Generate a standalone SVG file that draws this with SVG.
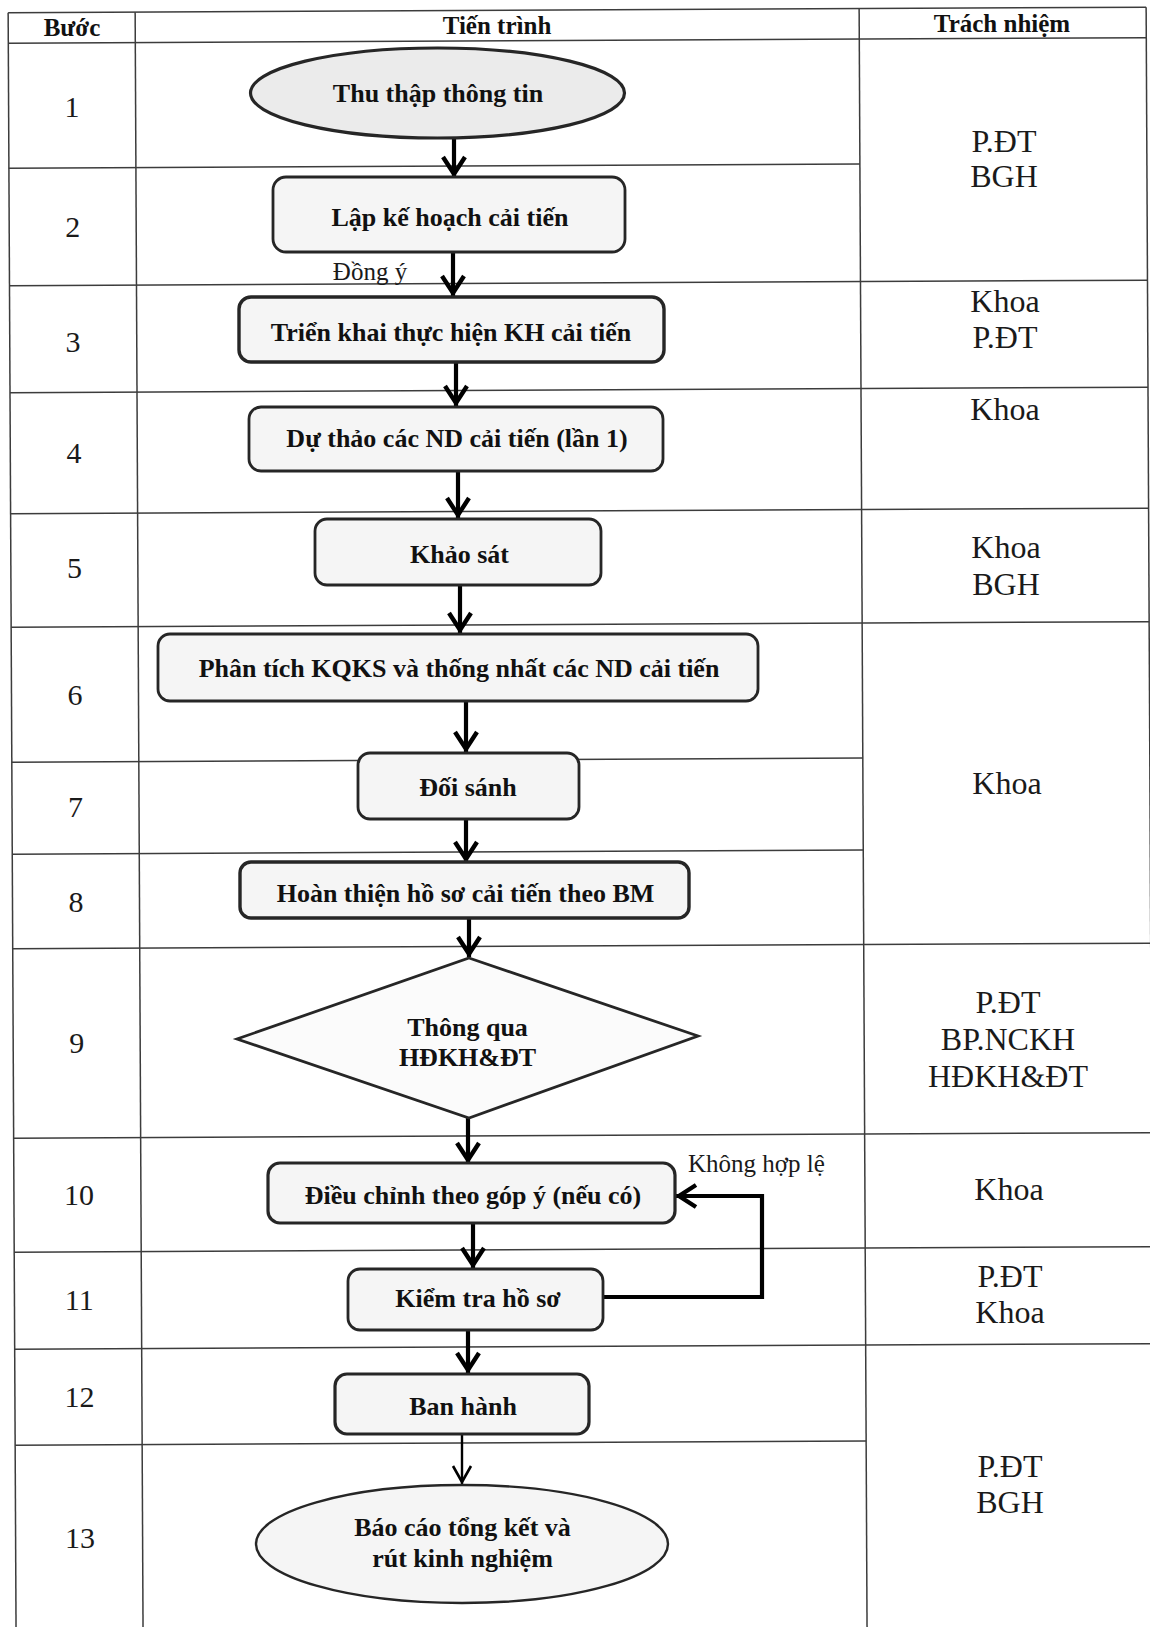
<svg xmlns="http://www.w3.org/2000/svg" width="1150" height="1627" viewBox="0 0 1150 1627">
<style>
.grid line{stroke:#3c3c3c;stroke-width:1.5;fill:none}
.node{fill:#f5f5f5;stroke:#262626;stroke-width:2.8}
.lbl{font-family:"Liberation Serif","Times New Roman",serif;font-weight:bold;font-size:26px;text-anchor:middle;fill:#111}
.hdr{font-family:"Liberation Serif","Times New Roman",serif;font-weight:bold;font-size:25px;text-anchor:middle;fill:#111}
.num{font-family:"Liberation Serif","Times New Roman",serif;font-size:30px;text-anchor:middle;fill:#1a1a1a}
.resp{font-family:"Liberation Serif","Times New Roman",serif;font-size:32px;text-anchor:middle;fill:#1a1a1a}
.note{font-family:"Liberation Serif","Times New Roman",serif;font-size:25px;fill:#1a1a1a}
.conn path{fill:none;stroke:#000;stroke-width:4.2}
.conn path.thin{stroke-width:2.4}
</style>
<defs>
<marker id="ah" markerUnits="userSpaceOnUse" viewBox="-24 -14 28 28" markerWidth="28" markerHeight="28" refX="0" refY="0" orient="auto">
<path d="M-20,-11 L-3,0 L-20,11" fill="none" stroke="#000" stroke-width="4.4"/>
</marker>
<marker id="ahThin" markerUnits="userSpaceOnUse" viewBox="-24 -14 28 28" markerWidth="28" markerHeight="28" refX="0" refY="0" orient="auto">
<path d="M-18,-9 L-2,0 L-18,9" fill="none" stroke="#000" stroke-width="2.6"/>
</marker>
</defs>
<rect width="1150" height="1627" fill="#ffffff"/>

<g id="table" class="grid" transform="rotate(-0.28 575 800)">
<line x1="12" y1="10" x2="12" y2="1660"/>
<line x1="139" y1="10" x2="139" y2="1660"/>
<line x1="863" y1="10" x2="863" y2="1660"/>
<line x1="1150" y1="10" x2="1150" y2="1660"/>
<line x1="12" y1="10" x2="1150" y2="10"/>
<line x1="12" y1="40.5" x2="1150" y2="40.5"/>
<line x1="12" y1="165.5" x2="863" y2="165.5"/>
<line x1="12" y1="283" x2="1150" y2="283"/>
<line x1="12" y1="390" x2="1150" y2="390"/>
<line x1="12" y1="511" x2="1150" y2="511"/>
<line x1="12" y1="624.5" x2="1150" y2="624.5"/>
<line x1="12" y1="759.5" x2="863" y2="759.5"/>
<line x1="12" y1="851.5" x2="863" y2="851.5"/>
<line x1="12" y1="946" x2="1150" y2="946"/>
<line x1="12" y1="1135.5" x2="1150" y2="1135.5"/>
<line x1="12" y1="1249.5" x2="1150" y2="1249.5"/>
<line x1="12" y1="1346.5" x2="1150" y2="1346.5"/>
<line x1="12" y1="1442.5" x2="863" y2="1442.5"/>
</g>

<g id="headers">
<text class="hdr" x="72" y="36">Bước</text>
<text class="hdr" x="497" y="34">Tiến trình</text>
<text class="hdr" x="1002" y="32">Trách nhiệm</text>
</g>

<g id="steps">
<text class="num" x="72" y="117">1</text>
<text class="num" x="72.7" y="237">2</text>
<text class="num" x="73" y="352">3</text>
<text class="num" x="74" y="463">4</text>
<text class="num" x="74.5" y="578">5</text>
<text class="num" x="75" y="705">6</text>
<text class="num" x="75.6" y="817">7</text>
<text class="num" x="76" y="912">8</text>
<text class="num" x="76.8" y="1053">9</text>
<text class="num" x="79" y="1205">10</text>
<text class="num" x="79.3" y="1310">11</text>
<text class="num" x="79.5" y="1407">12</text>
<text class="num" x="80" y="1548">13</text>
</g>

<g id="responsibility">
<text class="resp" x="1004" y="152">P.ĐT</text>
<text class="resp" x="1004" y="187">BGH</text>
<text class="resp" x="1005" y="312">Khoa</text>
<text class="resp" x="1005" y="348">P.ĐT</text>
<text class="resp" x="1005" y="420">Khoa</text>
<text class="resp" x="1006" y="558">Khoa</text>
<text class="resp" x="1006" y="595">BGH</text>
<text class="resp" x="1007" y="794">Khoa</text>
<text class="resp" x="1008" y="1013">P.ĐT</text>
<text class="resp" x="1008" y="1050">BP.NCKH</text>
<text class="resp" x="1008" y="1087">HĐKH&amp;ĐT</text>
<text class="resp" x="1009" y="1200">Khoa</text>
<text class="resp" x="1010" y="1287">P.ĐT</text>
<text class="resp" x="1010" y="1323">Khoa</text>
<text class="resp" x="1010" y="1477">P.ĐT</text>
<text class="resp" x="1010" y="1513">BGH</text>
</g>

<g id="connectors" class="conn">
<path d="M454,138 V177" marker-end="url(#ah)"/>
<path d="M453,252 V296" marker-end="url(#ah)"/>
<path d="M456,362 V406" marker-end="url(#ah)"/>
<path d="M458,471 V518" marker-end="url(#ah)"/>
<path d="M460,585 V633" marker-end="url(#ah)"/>
<path d="M466,700 V752" marker-end="url(#ah)"/>
<path d="M466,819 V862" marker-end="url(#ah)"/>
<path d="M469,918 V957" marker-end="url(#ah)"/>
<path d="M468,1118 V1163" marker-end="url(#ah)"/>
<path d="M473,1224 V1268" marker-end="url(#ah)"/>
<path d="M468,1330 V1373" marker-end="url(#ah)"/>
<path class="thin" d="M462,1434 V1484" marker-end="url(#ahThin)"/>
<path d="M603,1297 H762 V1196 H676" marker-end="url(#ah)"/>
<text class="note" x="370" y="280" text-anchor="middle" stroke="none">Đồng ý</text>
<text class="note" x="688" y="1172" stroke="none" font-size="26">Không hợp lệ</text>
</g>

<g id="n1">
<ellipse class="node" cx="437.5" cy="93" rx="187" ry="45" style="fill:#ebebeb;stroke-width:3.2"/>
<text class="lbl" x="438" y="102">Thu thập thông tin</text>
</g>
<g id="n2">
<rect class="node" x="273" y="177" width="352" height="75" rx="13"/>
<text class="lbl" x="450" y="226">Lập kế hoạch cải tiến</text>
</g>
<g id="n3">
<rect class="node" x="239" y="297" width="425" height="65" rx="12" style="stroke-width:3.4"/>
<text class="lbl" x="451" y="341">Triển khai thực hiện KH cải tiến</text>
</g>
<g id="n4">
<rect class="node" x="249" y="407" width="414" height="64" rx="12"/>
<text class="lbl" x="457" y="447">Dự thảo các ND cải tiến (lần 1)</text>
</g>
<g id="n5">
<rect class="node" x="315" y="519" width="286" height="66" rx="12"/>
<text class="lbl" x="459.5" y="563">Khảo sát</text>
</g>
<g id="n6">
<rect class="node" x="158" y="634" width="600" height="67" rx="12"/>
<text class="lbl" x="459" y="677">Phân tích KQKS và thống nhất các ND cải tiến</text>
</g>
<g id="n7">
<rect class="node" x="358" y="753" width="221" height="66" rx="12"/>
<text class="lbl" x="468" y="796">Đối sánh</text>
</g>
<g id="n8">
<rect class="node" x="240" y="862" width="449" height="56" rx="11" style="stroke-width:3.4"/>
<text class="lbl" x="465.5" y="902">Hoàn thiện hồ sơ cải tiến theo BM</text>
</g>
<g id="n9">
<polygon class="node" points="469,958 698,1036 469,1118 237,1039" style="fill:#fbfbfb"/>
<text class="lbl" x="467.5" y="1036">Thông qua</text>
<text class="lbl" x="467.5" y="1066">HĐKH&amp;ĐT</text>
</g>
<g id="n10">
<rect class="node" x="268" y="1163" width="407" height="60" rx="12" style="stroke-width:3.2"/>
<text class="lbl" x="473" y="1204">Điều chỉnh theo góp ý (nếu có)</text>
</g>
<g id="n11">
<rect class="node" x="348" y="1269" width="255" height="61" rx="12"/>
<text class="lbl" x="478" y="1307">Kiểm tra hồ sơ</text>
</g>
<g id="n12">
<rect class="node" x="335" y="1374" width="254" height="60" rx="12" style="stroke-width:3.2"/>
<text class="lbl" x="463" y="1415">Ban hành</text>
</g>
<g id="n13">
<ellipse class="node" cx="462" cy="1544" rx="206" ry="59" style="stroke-width:2.4"/>
<text class="lbl" x="462.5" y="1536">Báo cáo tổng kết và</text>
<text class="lbl" x="462.5" y="1567">rút kinh nghiệm</text>
</g>
</svg>
